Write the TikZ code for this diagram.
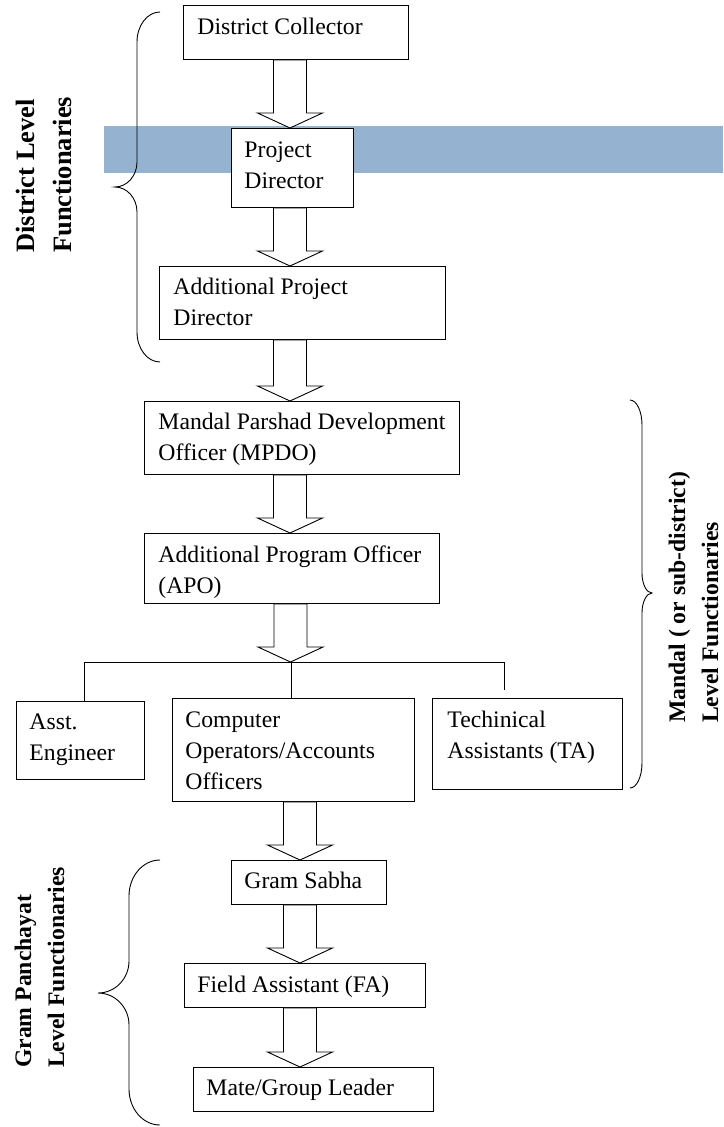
\documentclass[tikz,border=0pt]{standalone}
\usepackage{fontspec}
\setmainfont{Liberation Serif}
\usetikzlibrary{calc}
\definecolor{bandblue}{RGB}{149,179,208}
\newcommand\bxt[3]{\hspace*{#1pt}\parbox[t]{#2pt}{\raggedright #3}}
\newcommand\blockarrow[3]{%
  \draw[blockarr] let \p1=(#2), \p2=(#3) in
    ({#1pt-16.5pt},\y1) -- ({#1pt-16.5pt},{\y2+15pt}) -- ({#1pt-32.5pt},{\y2+15pt})
    -- ({#1pt},\y2) -- ({#1pt+32.5pt},{\y2+15pt}) -- ({#1pt+16.5pt},{\y2+15pt})
    -- ({#1pt+16.5pt},\y1) -- cycle;}
\begin{document}
\begin{tikzpicture}[x=1pt,y=-1pt,
  bx/.style={draw, line width=0.9pt, fill=white, anchor=north west,
    inner xsep=0pt, inner ysep=0pt, font=\fontsize{23.7}{31}\selectfont},
  blockarr/.style={draw, line width=0.9pt, fill=white, line join=miter},
  conn/.style={draw, line width=0.9pt},
  bracestyle/.style={draw, line width=0.9pt},
  sidelab/.style={rotate=90, anchor=base west, inner sep=0pt,
    font=\bfseries\fontsize{23.7}{33}\selectfont}]
\useasboundingbox (0,0) rectangle (723,1127);
\fill[bandblue] (104,126) rectangle (723,173);

% boxes
\node[bx, text height=29pt, text depth=25pt] (dc) at (183,5) {\bxt{14}{211}{District Collector}};
\node[bx, text height=29pt, text depth=50pt] (pd) at (231,128) {\bxt{13}{109}{Project\\Director}};
\node[bx, text height=28pt, text depth=45pt] (apd) at (159,266) {\bxt{14}{272}{Additional Project\\Director}};
\node[bx, text height=28pt, text depth=45pt] (mpdo) at (144,401) {\bxt{14}{301}{Mandal Parshad Development\\Officer (MPDO)}};
\node[bx, text height=29pt, text depth=41pt] (apo) at (144,533) {\bxt{14}{281}{Additional Program Officer\\(APO)}};
\node[bx, text height=28pt, text depth=50pt] (ae) at (16,701) {\bxt{13}{115}{Asst.\\Engineer}};
\node[bx, text height=29pt, text depth=74pt] (ce) at (172,698) {\bxt{13}{229}{Computer\\Operators/Accounts\\Officers}};
\node[bx, text height=29pt, text depth=62pt] (ta) at (432,698) {\bxt{15}{175}{Techinical\\Assistants (TA)}};
\node[bx, text height=28pt, text depth=16pt] (gs) at (231,860) {\bxt{13}{142}{Gram Sabha}};
\node[bx, text height=29pt, text depth=15pt] (fa) at (184,963) {\bxt{13}{228}{Field Assistant (FA)}};
\node[bx, text height=28pt, text depth=16pt] (mg) at (193,1067) {\bxt{13}{227}{Mate/Group Leader}};

% tree connectors
\coordinate (split) at (291,662);
\draw[conn] (split) -| ([xshift=4pt]ae.north);
\draw[conn] (split) -- (split |- ce.north);
\draw[conn] (split) -| ([xshift=-23pt,yshift=8pt]ta.north);

% block arrows
\blockarrow{290}{dc.south}{pd.north}
\blockarrow{290}{pd.south}{apd.north}
\blockarrow{290}{apd.south}{mpdo.north}
\blockarrow{290}{mpdo.south}{apo.north}
\blockarrow{290.5}{apo.south}{split}
\blockarrow{300}{ce.south}{gs.north}
\blockarrow{300}{gs.south}{fa.north}
\blockarrow{300}{fa.south}{mg.north}

% braces
\draw[bracestyle] (160,12) .. controls (147.3,12) and (137,25.4) .. (137,42)
  -- (137,162) .. controls (137,175.8) and (127.1,187) .. (115,187)
  .. controls (127.1,187) and (137,198.2) .. (137,212)
  -- (137,332) .. controls (137,348.6) and (147.3,362) .. (160,362);
\draw[bracestyle] (630,400) .. controls (636.6,400) and (642,411.2) .. (642,425)
  -- (642,573) .. controls (642,584) and (646.5,593) .. (652,593)
  .. controls (646.5,593) and (642,602) .. (642,613)
  -- (642,763) .. controls (642,776.8) and (636.6,788) .. (630,788);
\draw[bracestyle] (160,860) .. controls (142.9,860) and (129,876.1) .. (129,896)
  -- (129,961) .. controls (129,978.7) and (115.1,993) .. (98,993)
  .. controls (115.1,993) and (129,1007.3) .. (129,1025)
  -- (129,1089) .. controls (129,1108.9) and (142.9,1125) .. (160,1125);

% side labels
\node[sidelab, font=\bfseries\fontsize{26.5}{36.5}\selectfont] (dl) at (34.5,253)
  {\parbox[t]{300pt}{\raggedright District Level\\Functionaries}};
\node[sidelab] (ml) at (685,723)
  {\parbox[t]{300pt}{\raggedright Mandal ( or sub-district)\\Level Functionaries}};
\node[sidelab] (gl) at (31,1068)
  {\parbox[t]{300pt}{\raggedright Gram Panchayat\\Level Functionaries}};
\end{tikzpicture}
\end{document}
